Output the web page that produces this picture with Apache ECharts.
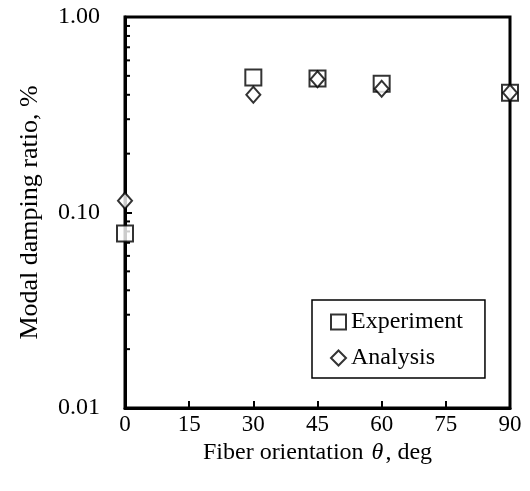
<!DOCTYPE html>
<html><head><meta charset="utf-8">
<script src="https://cdn.jsdelivr.net/npm/echarts@6/dist/echarts.min.js"></script>
<style>html,body{margin:0;padding:0;background:#fff}#c{width:530px;height:491px}</style>
</head><body><div id="c"></div>
<script>
const angles = [0, 30, 45, 60, 90];
const experiment = [0.078, 0.49, 0.485, 0.455, 0.41];
const analysis = [0.115, 0.40, 0.48, 0.43, 0.41];
const yMinorTicks = [0.02,0.03,0.04,0.05,0.06,0.07,0.08,0.09,0.2,0.3,0.4,0.5,0.6,0.7,0.8,0.9];

const FONT = '"Liberation Serif", "DejaVu Serif", serif';
const chart = echarts.init(document.getElementById('c'));
chart.setOption({
  animation: false,
  backgroundColor: '#fff',
  textStyle: { fontFamily: FONT, color: '#000' },
  grid: { left: 125, top: 17, right: 20, bottom: 83, show: true, borderColor: '#000', borderWidth: 3, backgroundColor: 'transparent' },
  xAxis: {
    type: 'value', min: 0, max: 90, interval: 15,
    axisLine: { show: true, lineStyle: { color: '#000', width: 3 } },
    axisTick: { show: true, inside: true, length: 7, lineStyle: { color: '#000', width: 2 } },
    axisLabel: { color: '#000', fontFamily: FONT, fontSize: 23, margin: 5 },
    splitLine: { show: false },
    name: 'Fiber orientation {i|θ}, deg', nameLocation: 'middle', nameGap: 31,
    nameTextStyle: { color: '#000', fontFamily: FONT, fontSize: 24, rich: { i: { fontStyle: 'italic', fontFamily: FONT, fontSize: 24, color: '#000', padding: [0, 2, 0, 2] } } }
  },
  yAxis: {
    type: 'log', logBase: 10, min: 0.01, max: 1,
    axisLine: { show: true, lineStyle: { color: '#000', width: 3 } },
    axisTick: { show: true, inside: true, length: 7, lineStyle: { color: '#000', width: 2 } },
    axisLabel: { color: '#000', fontFamily: FONT, fontSize: 24, margin: 25, formatter: v => (+v).toFixed(2) },
    splitLine: { show: false },
    name: 'Modal damping ratio, %', nameLocation: 'middle', nameGap: 82, nameRotate: 90,
    nameTextStyle: { color: '#000', fontFamily: FONT, fontSize: 26 }
  },
  legend: {
    left: 312, top: 300, orient: 'vertical',
    borderColor: '#000', borderWidth: 1.5, padding: [10, 22, 8, 18],
    itemWidth: 15, itemHeight: 15, itemGap: 12,
    textStyle: { color: '#000', fontFamily: FONT, fontSize: 24, lineHeight: 24 },
    data: ['Experiment', 'Analysis']
  },
  series: [
    {
      type: 'custom', name: 'minor', silent: true, z: 1,
      data: yMinorTicks.map(v => [v]),
      renderItem: (params, api) => {
        const p = api.coord([0, api.value(0)]);
        return { type: 'line', shape: { x1: p[0], y1: p[1], x2: p[0] + 5, y2: p[1] }, style: { stroke: '#000', lineWidth: 2 } };
      },
      encode: { y: 0 }
    },
    {
      name: 'Experiment', type: 'scatter', symbol: 'rect', symbolSize: 16, clip: false, z: 3,
      itemStyle: { color: '#fff', borderColor: '#000', borderWidth: 2 },
      data: angles.map((a, i) => [a, experiment[i]])
    },
    {
      name: 'Analysis', type: 'scatter', symbol: 'diamond', symbolSize: [14, 16], clip: false, z: 4,
      itemStyle: { color: '#fff', borderColor: '#000', borderWidth: 2 },
      data: angles.map((a, i) => [a, analysis[i]])
    }
  ]
});
</script></body></html>
